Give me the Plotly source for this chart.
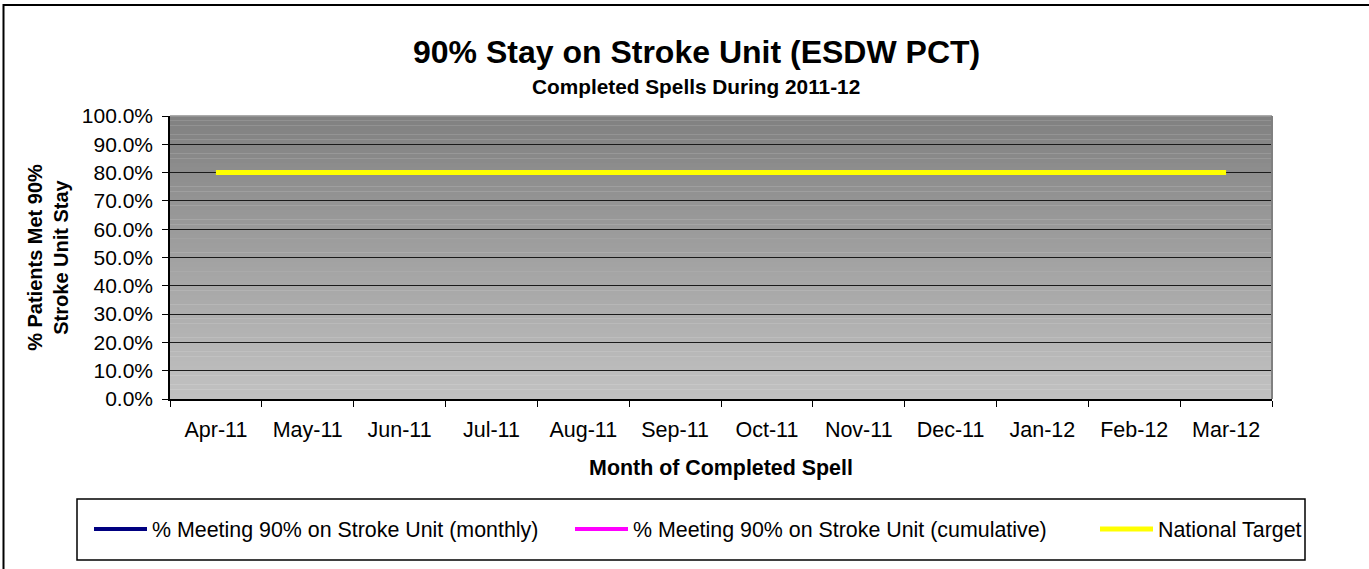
import plotly.graph_objects as go

months = ["Apr-11", "May-11", "Jun-11", "Jul-11", "Aug-11", "Sep-11",
          "Oct-11", "Nov-11", "Dec-11", "Jan-12", "Feb-12", "Mar-12"]
monthly = [None] * 12
cumulative = [None] * 12
national_target = [0.8] * 12

FONT = "Liberation Sans, Arial, sans-serif"
W, H = 1369, 569
ML, MR, MT, MB = 170, 97, 116, 170
PW = W - ML - MR
PH = H - MT - MB


def px_x(px):
    return (px - ML) / PW


def px_y(py):
    return (H - MB - py) / PH


fig = go.Figure()
fig.add_trace(go.Scatter(x=months, y=monthly, mode="lines",
                         name="% Meeting 90% on Stroke Unit (monthly)",
                         line=dict(color="#000080", width=4), legend="legend"))
fig.add_trace(go.Scatter(x=months, y=cumulative, mode="lines",
                         name="% Meeting 90% on Stroke Unit (cumulative)",
                         line=dict(color="#FF00FF", width=4), legend="legend2"))
fig.add_trace(go.Scatter(x=months, y=national_target, mode="lines",
                         name="National Target",
                         line=dict(color="#FFFF00", width=5), legend="legend3"))

# gradient background of plot area
shapes = []
N = 60
top = (128, 128, 128)
bot = (194, 194, 194)
for i in range(N):
    t = (i + 0.5) / N
    c = tuple(int(round(top[k] + (bot[k] - top[k]) * t)) for k in range(3))
    shapes.append(dict(type="rect", xref="paper", yref="paper",
                       x0=0, x1=1, y0=1 - (i + 1) / N, y1=1 - i / N + 0.001,
                       fillcolor="rgb(%d,%d,%d)" % c, line=dict(width=0),
                       layer="below"))
# plot area top and right border
shapes.append(dict(type="line", xref="paper", yref="paper", x0=0, x1=1, y0=1, y1=1,
                   line=dict(color="#9a9a9a", width=1.5)))
shapes.append(dict(type="line", xref="paper", yref="paper", x0=1, x1=1, y0=0, y1=1,
                   line=dict(color="#808080", width=2)))
# legend box
shapes.append(dict(type="rect", xref="paper", yref="paper",
                   x0=px_x(77), x1=px_x(1305), y0=px_y(560), y1=px_y(499),
                   line=dict(color="black", width=1.5), fillcolor="rgba(0,0,0,0)"))
# outer chart frame
shapes.append(dict(type="rect", xref="paper", yref="paper",
                   x0=px_x(3.5), x1=px_x(1500), y0=px_y(700), y1=px_y(5),
                   line=dict(color="black", width=2), fillcolor="rgba(0,0,0,0)"))

leg_common = dict(orientation="h", xanchor="left", yanchor="middle",
                  font=dict(family=FONT, size=21.4, color="black"),
                  bgcolor="rgba(0,0,0,0)", borderwidth=0, itemwidth=53)

fig.update_layout(
    width=W, height=H,
    margin=dict(l=ML, r=MR, t=MT, b=MB, autoexpand=False),
    paper_bgcolor="white",
    plot_bgcolor="rgba(0,0,0,0)",
    font=dict(family=FONT, color="black"),
    showlegend=True,
    legend=dict(x=px_x(89), y=px_y(529), **leg_common),
    legend2=dict(x=px_x(570), y=px_y(529), **leg_common),
    legend3=dict(x=px_x(1095), y=px_y(529), **leg_common),
    shapes=shapes,
    annotations=[
        dict(text="<b>90% Stay on Stroke Unit (ESDW PCT)</b>", xref="paper", yref="paper",
             x=px_x(696), y=px_y(52), xanchor="center", yanchor="middle", showarrow=False,
             font=dict(family=FONT, size=32, color="black")),
        dict(text="<b>Completed Spells During 2011-12</b>", xref="paper", yref="paper",
             x=px_x(696), y=px_y(87), xanchor="center", yanchor="middle", showarrow=False,
             font=dict(family=FONT, size=20.8, color="black")),
    ],
    xaxis=dict(type="category", range=[-0.5, 11.5], tickson="boundaries",
               ticks="outside", ticklen=6, tickcolor="black", tickwidth=1,
               showline=True, linecolor="black", linewidth=1.5,
               showgrid=False, zeroline=False, ticklabelstandoff=10,
               tickfont=dict(family=FONT, size=21.5, color="black"),
               title=dict(text="<b>Month of Completed Spell</b>", standoff=19,
                          font=dict(family=FONT, size=21.4, color="black"))),
    yaxis=dict(range=[0, 1], dtick=0.1, tickformat=".1%",
               ticks="outside", ticklen=6, tickcolor="black", tickwidth=1,
               showline=True, linecolor="black", linewidth=1.5,
               showgrid=True, gridcolor="#1a1a1a", gridwidth=1, zeroline=False,
               ticklabelstandoff=5,
               tickfont=dict(family=FONT, size=21, color="black"),
               title=dict(text="<b>% Patients Met 90%<br>Stroke Unit Stay</b>", standoff=8,
                          font=dict(family=FONT, size=20, color="black"))),
)

fig.write_html("out.html",
               config={"displayModeBar": False},
               post_script="document.body.style.margin='0px';"
                           "document.body.style.overflow='hidden';")
